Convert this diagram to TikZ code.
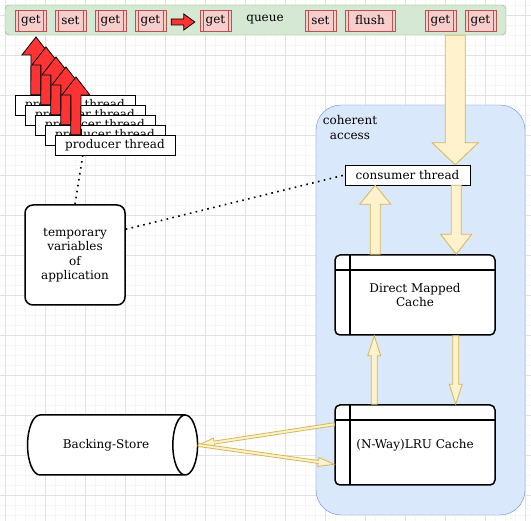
\documentclass[tikz,border=0pt]{standalone}
\usepackage{fontspec}
\setmainfont{DejaVu Serif}
\usetikzlibrary{calc,shapes.geometric,positioning}
\definecolor{GridMajor}{HTML}{E2E2E2}
\definecolor{GridMinor}{HTML}{F5F5F5}
\definecolor{QueueFill}{HTML}{D5E8D4}
\definecolor{QueueLine}{HTML}{82B366}
\definecolor{OpFill}{HTML}{F8CECC}
\definecolor{OpLine}{HTML}{B85450}
\definecolor{Push}{HTML}{FF3333}
\definecolor{AccFill}{HTML}{DAE8FC}
\definecolor{AccLine}{HTML}{6C8EBF}
\definecolor{FlowFill}{HTML}{FFF2CC}
\definecolor{FlowLine}{HTML}{D6B656}
% block arrow: [style]{from}{to}{half shaft}{half head}{head length}
\newcommand{\fatarrow}[6][]{%
  \coordinate (fa-c) at ($(#3)!#6!(#2)$);
  \filldraw[#1] ($(#2)!#4!90:(#3)$) -- ($(fa-c)!#4!-90:(#2)$) -- ($(fa-c)!#5!-90:(#2)$) -- (#3)
    -- ($(fa-c)!#5!90:(#2)$) -- ($(fa-c)!#4!90:(#2)$) -- ($(#2)!#4!-90:(#3)$) -- cycle;}

\begin{document}
\begin{tikzpicture}[x=1pt,y=-1pt,font=\fontsize{12}{14.5}\selectfont,
 minorgrid/.style={draw=GridMinor,line width=0.8pt},
 majorgrid/.style={draw=GridMajor,line width=0.8pt},
 queuebar/.style={draw=QueueLine,fill=QueueFill,rounded corners=4pt,minimum width=501pt,minimum height=30pt},
 op/.style={draw=OpLine,fill=OpFill,minimum height=21pt,inner sep=0pt,
   path picture={\draw[OpLine] ([xshift=3pt]path picture bounding box.north west) -- ([xshift=3pt]path picture bounding box.south west)
     ([xshift=-3pt]path picture bounding box.north east) -- ([xshift=-3pt]path picture bounding box.south east);}},
 thread/.style={draw,fill=white,minimum height=20pt,inner sep=0pt},
 access/.style={draw=AccLine,fill=AccFill,rounded corners=25pt,minimum width=209pt,minimum height=410pt},
 cache/.style={draw,fill=white,line width=1.5pt,rounded corners=5pt,minimum width=160pt,minimum height=80pt,align=center,
   path picture={\draw[line width=1.5pt] ([xshift=15pt]path picture bounding box.north west) -- ([xshift=15pt]path picture bounding box.south west)
     ([yshift=-15pt]path picture bounding box.north west) -- ([yshift=-15pt]path picture bounding box.north east);}},
 tempbox/.style={draw,fill=white,line width=1.5pt,rounded corners=8pt,minimum width=100pt,minimum height=100pt,align=center},
 store/.style={cylinder,draw,fill=white,line width=1.5pt,aspect=2.1,minimum width=60pt,minimum height=170pt,inner sep=0pt},
 redarrow/.style={fill=Push,draw=black,line width=0.8pt},
 flow/.style={fill=FlowFill,draw=FlowLine,line width=0.8pt},
 dotline/.style={line width=1.6pt,dash pattern=on 1.6pt off 4.4pt}
]
\useasboundingbox (0,0) rectangle (531,521);
\fill[white] (0,0) rectangle (531,521);
% grid
\foreach \x in {5,15,...,525} \draw[minorgrid] (\x,0) -- (\x,521);
\foreach \y in {5,15,...,515} \draw[minorgrid] (0,\y) -- (531,\y);
\foreach \x in {5,45,...,525} \draw[majorgrid] (\x,0) -- (\x,521);
\foreach \y in {15,55,...,495} \draw[majorgrid] (0,\y) -- (531,\y);

% queue
\node[queuebar] (queue) at (255.5,20) {};
\node (qlbl) at (265,20) {queue};
\foreach \t/\x/\w [count=\i] in {get/31/31,set/70.5/31,get/110.5/31,get/150.5/31,get/215.5/31,set/320.5/31,flush/370/50,get/440.5/31,get/480.5/31}
  \node[op,minimum width=\w] (op\i) at (\x,20.5) {\t};
\coordinate (qa) at ($(op4.east)+(5,1.5)$);
\coordinate (qb) at ($(op5.west)+(-5,1.5)$);
\fatarrow[redarrow]{qa}{qb}{3pt}{8pt}{11pt}

% producers
\foreach \i in {1,...,5}{
  \node[thread,minimum width=120pt] (prod\i) at ({75+10*(\i-1)},{105+10*(\i-1)}) {producer thread};
  \coordinate (ptail\i) at ($(prod\i.north west)+(21,0)$);
  \coordinate (ptip\i) at ({36+10*(\i-1)},{37+10*(\i-1)});
  \fatarrow[redarrow]{ptail\i}{ptip\i}{5pt}{14pt}{18pt}
}

% coherent access
\node[access] (coh) at (420.5,310) {};
\node[align=center,anchor=north] (cohlbl) at (350,112) {coherent\\access};
\node[thread,minimum width=125pt] (cons) at (407.5,175) {consumer thread};
\node[cache] (dmc) at (415,295) {Direct Mapped\\Cache};
\node[cache] (lru) at (415,445) {(N-Way)LRU Cache};

\node[tempbox] (temp) at (75,255) {temporary\\variables\\of\\application};
\node[store] (bs) at (106,445) {Backing-Store};

% flows
\coordinate (c1) at ($(cons.north east)+(-15,0)$);
\coordinate (q1) at (c1 |- queue.south);
\fatarrow[flow]{q1}{c1}{10pt}{23pt}{22pt}
\coordinate (c2) at ($(cons.south east)+(-14,0)$);
\coordinate (d2) at (c2 |- dmc.north);
\fatarrow[flow]{c2}{d2}{5pt}{15.5pt}{20pt}
\coordinate (d3) at ($(dmc.north west)+(41,0)$);
\coordinate (c3) at (d3 |- cons.south);
\fatarrow[flow]{d3}{c3}{5pt}{15.5pt}{19pt}
\coordinate (d4) at ($(dmc.south east)+(-40,0)$);
\coordinate (l4) at (d4 |- lru.north);
\fatarrow[flow]{d4}{l4}{3pt}{6.5pt}{20pt}
\coordinate (l5) at ($(lru.north west)+(40,0)$);
\coordinate (d5) at (l5 |- dmc.south);
\fatarrow[flow]{l5}{d5}{3pt}{6.5pt}{20pt}
\coordinate (l6) at ($(lru.north west)+(0,20)$);
\fatarrow[flow]{l6}{bs.east}{1.5pt}{4.5pt}{16pt}
\coordinate (l7) at ($(lru.north west)+(0,60)$);
\fatarrow[flow]{bs.east}{l7}{1.5pt}{4.5pt}{16pt}

% links
\draw[dotline] ($(prod5.south west)+(28,0)$) -- (temp.north);
\draw[dotline] ($(temp.north east)+(0,25)$) -- (cons.west);
\end{tikzpicture}
\end{document}
